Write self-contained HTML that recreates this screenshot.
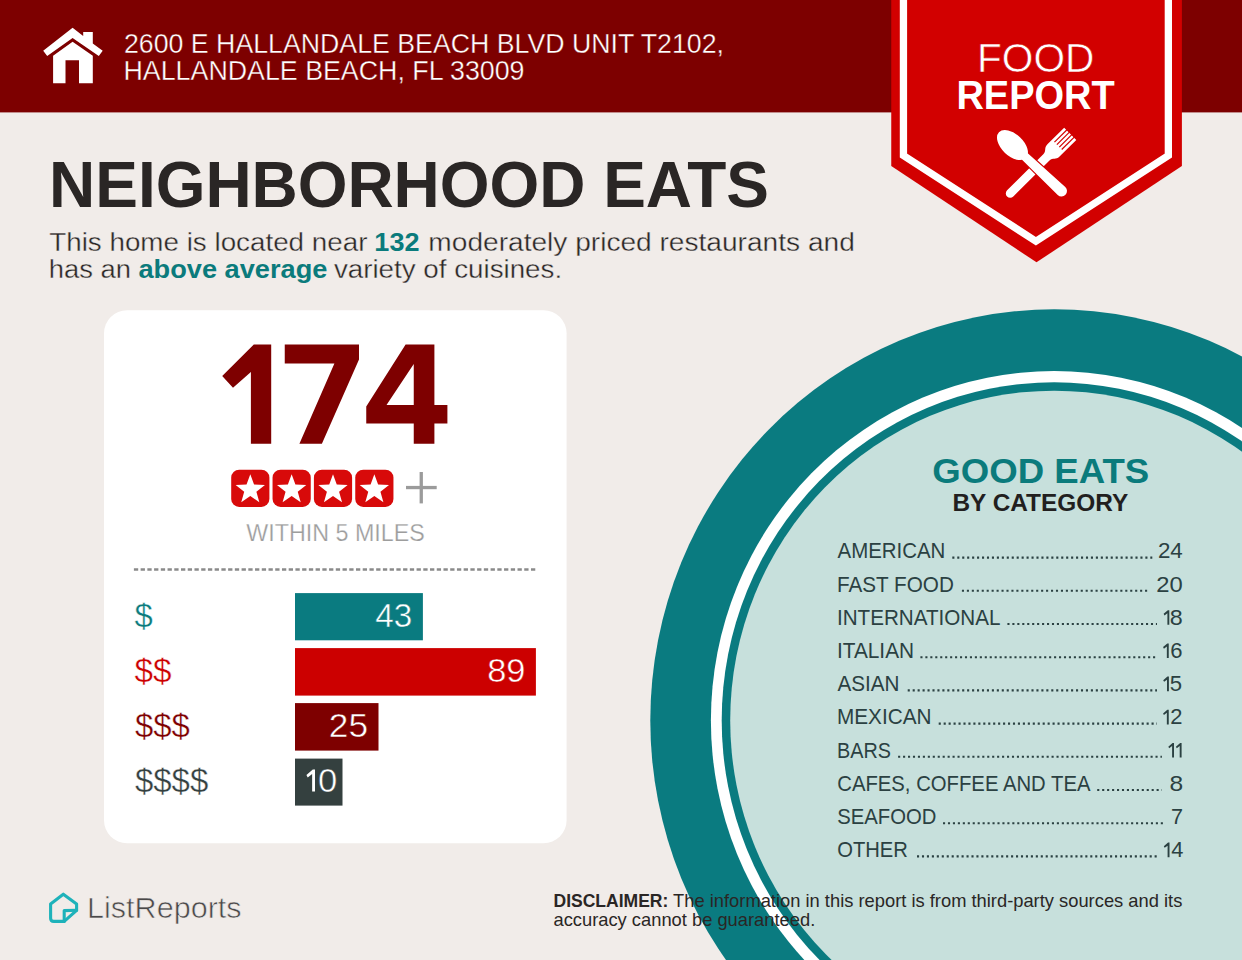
<!DOCTYPE html>
<html><head><meta charset="utf-8">
<style>
html,body{margin:0;padding:0;background:#f1ece9;width:1242px;height:960px;overflow:hidden}
svg{display:block}
text{font-family:"Liberation Sans",sans-serif}
</style></head>
<body>
<svg width="1242" height="960" viewBox="0 0 1242 960">
<rect x="0" y="0" width="1242" height="960" fill="#f1ece9"/>
<rect x="0" y="0" width="1242" height="112.4" fill="#7d0000"/>
<g fill="#ffffff">
<path d="M53.1,55.8 L72.6,41.8 L92.8,55.8 L92.8,83.3 L79,83.3 L79,60.2 L65.5,60.2 L65.5,83.3 L53.1,83.3 Z"/>
<path d="M43.2,50.7 L72.6,27.7 L83.2,36 L83.2,31.9 L92.8,31.9 L92.8,43.4 L102.7,50.7 L98.8,56 L72.6,37.9 L47.2,56 Z"/>
</g>
<text x="124.01" y="52.7" font-size="27" font-weight="normal" fill="#ffffff" textLength="599.96" lengthAdjust="spacingAndGlyphs" stroke="#7d0000" stroke-width="0.35">2600 E HALLANDALE BEACH BLVD UNIT T2102,</text>
<text x="123.52" y="80.2" font-size="27" font-weight="normal" fill="#ffffff" textLength="400.98" lengthAdjust="spacingAndGlyphs" stroke="#7d0000" stroke-width="0.35">HALLANDALE BEACH, FL 33009</text>
<path d="M891.25,0 L1181.9,0 L1181.9,166 L1036.5,262.3 L891.25,166 Z" fill="#d20000"/>
<path d="M903.45,-5 L903.45,155.5 L1035.9,241.2 L1168.35,155.5 L1168.35,-5" fill="none" stroke="#ffffff" stroke-width="7.3" stroke-linejoin="miter"/>
<text x="977.0" y="71.7" font-size="40.6" font-weight="normal" fill="#ffffff" textLength="117.32" lengthAdjust="spacingAndGlyphs" stroke="#d20000" stroke-width="0.6">FOOD</text>
<text x="956.39" y="109.2" font-size="40.6" font-weight="bold" fill="#ffffff" textLength="158.3" lengthAdjust="spacingAndGlyphs">REPORT</text>
<g fill="#ffffff">
 <g transform="translate(1010.2,193.4) rotate(-44.8)">
  <path d="M0,-4.4 L51,-4.4 C56,-4.4 55.5,-8.6 61,-8.6 L84.6,-8.6 L84.6,8.6 L61,8.6 C55.5,8.6 56,4.4 51,4.4 L0,4.4 A4.4,4.4 0 0 1 0,-4.4 Z"/>
  <g fill="#d20000"><rect x="67.5" y="-5.76" width="18" height="1.2"/><rect x="67.5" y="-2.32" width="18" height="1.2"/><rect x="67.5" y="1.12" width="18" height="1.2"/><rect x="67.5" y="4.56" width="18" height="1.2"/></g>
 </g>
 <g transform="translate(1061.5,191.0) rotate(-136.6)">
  <path d="M0,-5.5 L52,-4.3 L52,4.3 L0,5.5 A5.5,5.5 0 0 1 0,-5.5 Z" stroke="#d20000" stroke-width="2.2" paint-order="stroke"/>
  <ellipse cx="67.2" cy="-0.3" rx="18.6" ry="10.9"/>
 </g>
</g>
<text x="49.1" y="206.7" font-size="63.9" font-weight="bold" fill="#2a2625" textLength="719.81" lengthAdjust="spacingAndGlyphs">NEIGHBORHOOD EATS</text>
<text x="49.26" y="250.6" font-size="26.7" font-weight="normal" fill="#2a2625" textLength="318.14" lengthAdjust="spacingAndGlyphs" stroke="#f1ece9" stroke-width="0.35">This home is located near</text>
<text x="374.38" y="250.6" font-size="26.7" font-weight="bold" fill="#0b7b7c" textLength="45.06" lengthAdjust="spacingAndGlyphs">132</text>
<text x="428.39" y="250.6" font-size="26.7" font-weight="normal" fill="#2a2625" textLength="426.4" lengthAdjust="spacingAndGlyphs" stroke="#f1ece9" stroke-width="0.35">moderately priced restaurants and</text>
<text x="48.85" y="278.4" font-size="26.7" font-weight="normal" fill="#2a2625" textLength="82.25" lengthAdjust="spacingAndGlyphs" stroke="#f1ece9" stroke-width="0.35">has an</text>
<text x="138.48" y="278.4" font-size="26.7" font-weight="bold" fill="#0b7b7c" textLength="188.9" lengthAdjust="spacingAndGlyphs">above average</text>
<text x="333.9" y="278.4" font-size="26.7" font-weight="normal" fill="#2a2625" textLength="228.23" lengthAdjust="spacingAndGlyphs" stroke="#f1ece9" stroke-width="0.35">variety of cuisines.</text>
<rect x="104" y="310.3" width="462.6" height="532.9" rx="23" ry="23" fill="#ffffff"/>
<path fill-rule="evenodd" fill="#7e0000" d="M253.8,344.4 L271.2,344.4 L271.2,443.7 L250.9,443.7 L250.9,372 L233,387.8 L222.2,376 Z M284.75,344.4 L359,344.4 L359,359.4 L321.9,443.7 L299.4,443.7 L334.4,363.5 L284.75,363.5 Z M405.6,344.4 L434.4,344.4 L434.4,405 L447.4,405 L447.4,423.5 L434.4,423.5 L434.4,443.7 L413.75,443.7 L413.75,423.5 L366.25,423.5 L366.25,406.5 Z M386.5,405 L413.75,364 L413.75,405 Z"/>
<rect x="231.20" y="469.7" width="38.2" height="37.2" rx="8" ry="8" fill="#d80a0a"/>
<polygon points="250.30,474.30 254.06,484.52 264.95,484.94 256.39,491.68 259.35,502.16 250.30,496.10 241.25,502.16 244.21,491.68 235.65,484.94 246.54,484.52" fill="#ffffff"/>
<rect x="272.55" y="469.7" width="38.2" height="37.2" rx="8" ry="8" fill="#d80a0a"/>
<polygon points="291.65,474.30 295.41,484.52 306.30,484.94 297.74,491.68 300.70,502.16 291.65,496.10 282.60,502.16 285.56,491.68 277.00,484.94 287.89,484.52" fill="#ffffff"/>
<rect x="313.90" y="469.7" width="38.2" height="37.2" rx="8" ry="8" fill="#d80a0a"/>
<polygon points="333.00,474.30 336.76,484.52 347.65,484.94 339.09,491.68 342.05,502.16 333.00,496.10 323.95,502.16 326.91,491.68 318.35,484.94 329.24,484.52" fill="#ffffff"/>
<rect x="355.25" y="469.7" width="38.2" height="37.2" rx="8" ry="8" fill="#d80a0a"/>
<polygon points="374.35,474.30 378.11,484.52 389.00,484.94 380.44,491.68 383.40,502.16 374.35,496.10 365.30,502.16 368.26,491.68 359.70,484.94 370.59,484.52" fill="#ffffff"/>
<rect x="406" y="485.9" width="30.7" height="3.3" fill="#9b9b9b"/>
<rect x="419.6" y="472" width="3.3" height="31.4" fill="#9b9b9b"/>
<text x="246.3" y="540.6" font-size="24" font-weight="normal" fill="#9d9d9d" textLength="178.5" lengthAdjust="spacingAndGlyphs" stroke="#ffffff" stroke-width="0.25">WITHIN 5 MILES</text>
<line x1="133.9" y1="569.5" x2="536" y2="569.5" stroke="#8a8a8a" stroke-width="2.6" stroke-dasharray="4.3 2.43"/>
<rect x="295" y="593.1" width="127.9" height="47.2" fill="#0a7b80"/>
<rect x="295" y="648.1" width="240.9" height="47.5" fill="#cc0000"/>
<rect x="295" y="703.1" width="83.5" height="47.5" fill="#7e0000"/>
<rect x="295" y="758.6" width="47.5" height="47" fill="#34403f"/>
<text x="134.44" y="626.9" font-size="34" font-weight="normal" fill="#0b7b7c" textLength="18.25" lengthAdjust="spacingAndGlyphs" stroke="#ffffff" stroke-width="0.35">$</text>
<text x="134.42" y="681.8" font-size="34" font-weight="normal" fill="#cc0000" textLength="37.09" lengthAdjust="spacingAndGlyphs" stroke="#ffffff" stroke-width="0.35">$$</text>
<text x="134.93" y="736.6" font-size="34" font-weight="normal" fill="#7e0000" textLength="54.88" lengthAdjust="spacingAndGlyphs" stroke="#ffffff" stroke-width="0.35">$$$</text>
<text x="134.93" y="791.5" font-size="34" font-weight="normal" fill="#34403f" textLength="73.39" lengthAdjust="spacingAndGlyphs" stroke="#ffffff" stroke-width="0.35">$$$$</text>
<text x="375.19" y="626.9" font-size="33" font-weight="normal" fill="#ffffff" textLength="36.93" lengthAdjust="spacingAndGlyphs" stroke="#0a7b80" stroke-width="0.5">43</text>
<text x="487.16" y="681.8" font-size="33" font-weight="normal" fill="#ffffff" textLength="38.34" lengthAdjust="spacingAndGlyphs" stroke="#cc0000" stroke-width="0.5">89</text>
<text x="328.86" y="736.6" font-size="33" font-weight="normal" fill="#ffffff" textLength="39.22" lengthAdjust="spacingAndGlyphs" stroke="#7e0000" stroke-width="0.5">25</text>
<polygon fill="#ffffff" points="315.00,769.50 315.00,791.50 312.14,791.50 312.14,774.12 307.74,777.42 306.42,775.00 312.80,769.50"/>
<text x="317.95" y="791.5" font-size="33" font-weight="normal" fill="#ffffff" textLength="19.28" lengthAdjust="spacingAndGlyphs" stroke="#34403f" stroke-width="0.5">0</text>
<ellipse cx="1054.2" cy="720.4" rx="403.9" ry="411.1" fill="#0a7b80"/>
<ellipse cx="1054.2" cy="720.4" rx="343.3" ry="349.4" fill="#ffffff"/>
<ellipse cx="1054.2" cy="720.4" rx="332.5" ry="338.1" fill="#0a7b80"/>
<ellipse cx="1054.2" cy="720.4" rx="324" ry="329.7" fill="#c7e0dc"/>
<text x="932.35" y="482.8" font-size="35" font-weight="bold" fill="#0b7b7c" textLength="216.93" lengthAdjust="spacingAndGlyphs">GOOD EATS</text>
<text x="952.4" y="510.5" font-size="23.3" font-weight="bold" fill="#221f1f" textLength="175.9" lengthAdjust="spacingAndGlyphs">BY CATEGORY</text>
<text x="837.5" y="558.4" font-size="21.2" font-weight="normal" fill="#2b4142" textLength="107.88" lengthAdjust="spacingAndGlyphs">AMERICAN</text>
<text x="1157.95" y="558.4" font-size="21.2" font-weight="normal" fill="#2b4142" textLength="24.86" lengthAdjust="spacingAndGlyphs">24</text>
<line x1="952.3" y1="557.6" x2="1152.3" y2="557.6" stroke="#2b4142" stroke-width="2.1" stroke-dasharray="2.1 2.85"/>
<text x="836.95" y="591.6" font-size="21.2" font-weight="normal" fill="#2b4142" textLength="116.93" lengthAdjust="spacingAndGlyphs">FAST FOOD</text>
<text x="1156.38" y="591.6" font-size="21.2" font-weight="normal" fill="#2b4142" textLength="26.47" lengthAdjust="spacingAndGlyphs">20</text>
<line x1="961.9" y1="590.8000000000001" x2="1148.8" y2="590.8000000000001" stroke="#2b4142" stroke-width="2.1" stroke-dasharray="2.1 2.85"/>
<text x="836.95" y="624.8" font-size="21.2" font-weight="normal" fill="#2b4142" textLength="163.58" lengthAdjust="spacingAndGlyphs">INTERNATIONAL</text>
<polygon fill="#2b4142" points="1169.30,610.20 1169.30,624.80 1167.40,624.80 1167.40,613.27 1164.48,615.46 1163.61,613.85 1167.84,610.20"/>
<text x="1169.7" y="624.8" font-size="21.2" font-weight="normal" fill="#2b4142" textLength="12.98" lengthAdjust="spacingAndGlyphs">8</text>
<line x1="1007.4" y1="624.0" x2="1157" y2="624.0" stroke="#2b4142" stroke-width="2.1" stroke-dasharray="2.1 2.85"/>
<text x="836.93" y="658.0" font-size="21.2" font-weight="normal" fill="#2b4142" textLength="77.14" lengthAdjust="spacingAndGlyphs">ITALIAN</text>
<polygon fill="#2b4142" points="1168.75,643.40 1168.75,658.00 1166.85,658.00 1166.85,646.47 1163.93,648.66 1163.06,647.05 1167.29,643.40"/>
<text x="1170.36" y="658.0" font-size="21.2" font-weight="normal" fill="#2b4142" textLength="12.27" lengthAdjust="spacingAndGlyphs">6</text>
<line x1="920.4" y1="657.2" x2="1157" y2="657.2" stroke="#2b4142" stroke-width="2.1" stroke-dasharray="2.1 2.85"/>
<text x="837.5" y="691.2" font-size="21.2" font-weight="normal" fill="#2b4142" textLength="62.06" lengthAdjust="spacingAndGlyphs">ASIAN</text>
<polygon fill="#2b4142" points="1168.90,676.60 1168.90,691.20 1167.00,691.20 1167.00,679.67 1164.08,681.86 1163.21,680.25 1167.44,676.60"/>
<text x="1169.75" y="691.2" font-size="21.2" font-weight="normal" fill="#2b4142" textLength="12.33" lengthAdjust="spacingAndGlyphs">5</text>
<line x1="907.7" y1="690.4000000000001" x2="1157" y2="690.4000000000001" stroke="#2b4142" stroke-width="2.1" stroke-dasharray="2.1 2.85"/>
<text x="836.94" y="724.4" font-size="21.2" font-weight="normal" fill="#2b4142" textLength="94.57" lengthAdjust="spacingAndGlyphs">MEXICAN</text>
<polygon fill="#2b4142" points="1168.75,709.80 1168.75,724.40 1166.85,724.40 1166.85,712.87 1163.93,715.06 1163.06,713.45 1167.29,709.80"/>
<text x="1170.21" y="724.4" font-size="21.2" font-weight="normal" fill="#2b4142" textLength="12.21" lengthAdjust="spacingAndGlyphs">2</text>
<line x1="938.7" y1="723.6" x2="1157" y2="723.6" stroke="#2b4142" stroke-width="2.1" stroke-dasharray="2.1 2.85"/>
<text x="837.03" y="757.6" font-size="21.2" font-weight="normal" fill="#2b4142" textLength="53.93" lengthAdjust="spacingAndGlyphs">BARS</text>
<polygon fill="#2b4142" points="1174.00,743.00 1174.00,757.60 1172.10,757.60 1172.10,746.07 1169.18,748.26 1168.31,746.65 1172.54,743.00"/>
<polygon fill="#2b4142" points="1181.60,743.00 1181.60,757.60 1179.70,757.60 1179.70,746.07 1176.78,748.26 1175.91,746.65 1180.14,743.00"/>
<line x1="898.1" y1="756.8000000000001" x2="1161.9" y2="756.8000000000001" stroke="#2b4142" stroke-width="2.1" stroke-dasharray="2.1 2.85"/>
<text x="837.24" y="790.8" font-size="21.2" font-weight="normal" fill="#2b4142" textLength="253.25" lengthAdjust="spacingAndGlyphs">CAFES, COFFEE AND TEA</text>
<text x="1169.44" y="790.8" font-size="21.2" font-weight="normal" fill="#2b4142" textLength="13.68" lengthAdjust="spacingAndGlyphs">8</text>
<line x1="1097.2" y1="790.0" x2="1161.9" y2="790.0" stroke="#2b4142" stroke-width="2.1" stroke-dasharray="2.1 2.85"/>
<text x="837.24" y="824.0" font-size="21.2" font-weight="normal" fill="#2b4142" textLength="99.14" lengthAdjust="spacingAndGlyphs">SEAFOOD</text>
<text x="1170.98" y="824.0" font-size="21.2" font-weight="normal" fill="#2b4142" textLength="12.03" lengthAdjust="spacingAndGlyphs">7</text>
<line x1="943" y1="823.2" x2="1165.6" y2="823.2" stroke="#2b4142" stroke-width="2.1" stroke-dasharray="2.1 2.85"/>
<text x="837.25" y="857.2" font-size="21.2" font-weight="normal" fill="#2b4142" textLength="70.65" lengthAdjust="spacingAndGlyphs">OTHER</text>
<polygon fill="#2b4142" points="1169.50,842.60 1169.50,857.20 1167.60,857.20 1167.60,845.67 1164.68,847.86 1163.81,846.25 1168.04,842.60"/>
<text x="1171.17" y="857.2" font-size="21.2" font-weight="normal" fill="#2b4142" textLength="12.15" lengthAdjust="spacingAndGlyphs">4</text>
<line x1="917" y1="856.4000000000001" x2="1157" y2="856.4000000000001" stroke="#2b4142" stroke-width="2.1" stroke-dasharray="2.1 2.85"/>
<g fill="none" stroke="#1eb2ba" stroke-width="3.1" stroke-linejoin="round" stroke-linecap="round">
<path d="M63.3,894.2 L76.6,904 L76.6,910.3 L64.2,921.4 L53.8,921.4 Q50.6,921.4 50.6,918.2 L50.6,904 Z"/>
<path d="M64.2,921.4 L64.2,910.6 L76.6,910.3"/>
</g>
<text x="86.99" y="917.85" font-size="29" font-weight="normal" fill="#4b4949" textLength="154.62" lengthAdjust="spacingAndGlyphs" stroke="#f1ece9" stroke-width="0.6">ListReports</text>
<text x="553.51" y="906.9" font-size="17.8" font-weight="bold" fill="#2a2625" textLength="114.82" lengthAdjust="spacingAndGlyphs">DISCLAIMER:</text>
<text x="673.1" y="906.9" font-size="17.8" font-weight="normal" fill="#2a2625" textLength="509.23" lengthAdjust="spacingAndGlyphs">The information in this report is from third-party sources and its</text>
<text x="553.47" y="925.6" font-size="17.8" font-weight="normal" fill="#2a2625" textLength="261.76" lengthAdjust="spacingAndGlyphs">accuracy cannot be guaranteed.</text>
</svg>
</body></html>
